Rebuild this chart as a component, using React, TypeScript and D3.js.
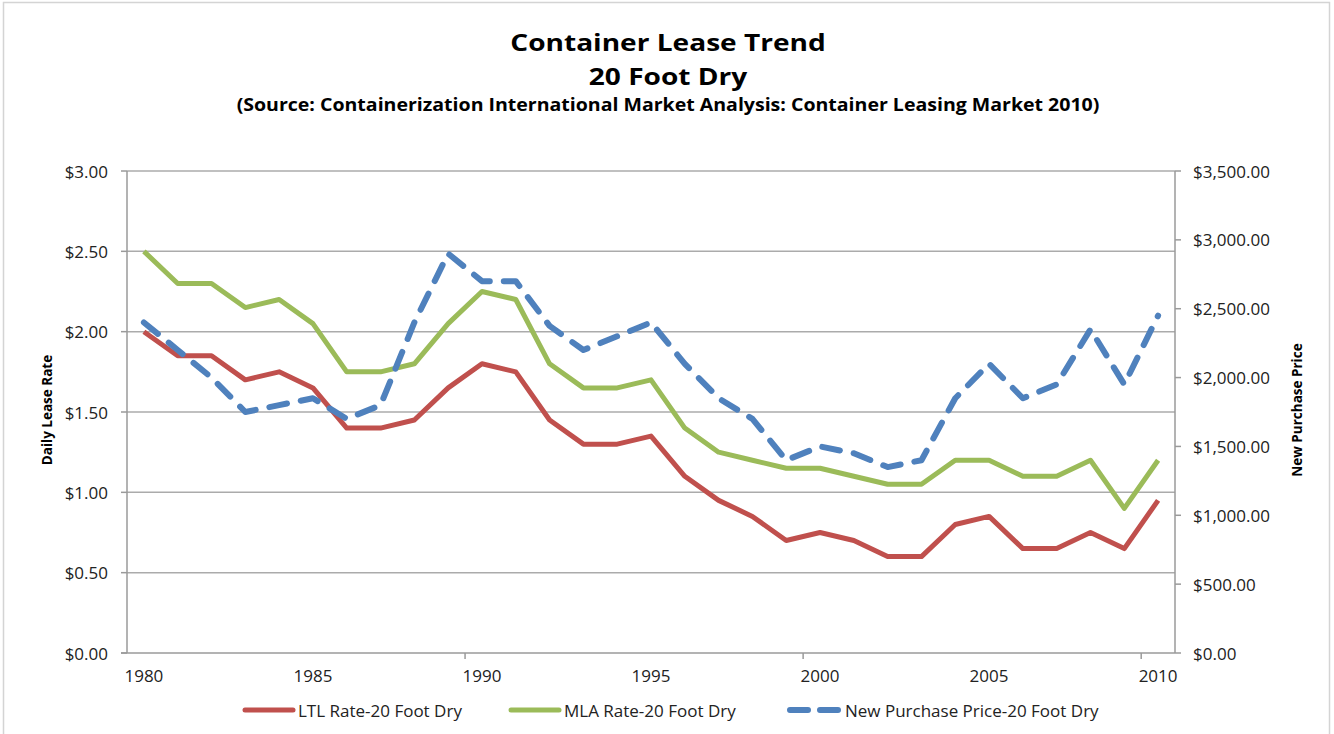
import { useEffect, useRef } from 'react';
import * as d3 from 'd3';

// categories (years)
const years = [
  1980, 1981, 1982, 1983, 1984, 1985, 1986, 1987, 1988, 1989,
  1990, 1991, 1992, 1993, 1994, 1995, 1996, 1997, 1998, 1999,
  2000, 2001, 2002, 2003, 2004, 2005, 2006, 2007, 2008, 2009, 2010,
];

// daily lease rate, left axis ($)
const ltlRate = [
  2.0, 1.85, 1.85, 1.7, 1.75, 1.65, 1.4, 1.4, 1.45, 1.65,
  1.8, 1.75, 1.45, 1.3, 1.3, 1.35, 1.1, 0.95, 0.85, 0.7,
  0.75, 0.7, 0.6, 0.6, 0.8, 0.85, 0.65, 0.65, 0.75, 0.65, 0.95,
];
const mlaRate = [
  2.5, 2.3, 2.3, 2.15, 2.2, 2.05, 1.75, 1.75, 1.8, 2.05,
  2.25, 2.2, 1.8, 1.65, 1.65, 1.7, 1.4, 1.25, 1.2, 1.15,
  1.15, 1.1, 1.05, 1.05, 1.2, 1.2, 1.1, 1.1, 1.2, 0.9, 1.2,
];

// new purchase price, right axis ($)
const purchasePrice = [
  2400, 2200, 2000, 1750, 1800, 1850, 1700, 1800, 2400, 2900,
  2700, 2700, 2375, 2200, 2300, 2400, 2100, 1850, 1700, 1400,
  1500, 1450, 1350, 1400, 1850, 2100, 1850, 1950, 2350, 1950, 2450,
];

const leftTicks = [0, 0.5, 1, 1.5, 2, 2.5, 3];
const rightTicks = [0, 500, 1000, 1500, 2000, 2500, 3000, 3500];
const yearLabels = [1980, 1985, 1990, 1995, 2000, 2005, 2010];

const legendItems = [
  { label: 'LTL Rate-20 Foot Dry', color: '#c0504d', dashed: false },
  { label: 'MLA Rate-20 Foot Dry', color: '#9bbb59', dashed: false },
  { label: 'New Purchase Price-20 Foot Dry', color: '#4f81bd', dashed: true },
];

const W = 1334;
const H = 734;
const FONT = '"Open Sans", sans-serif';

export default function App() {
  const svgRef = useRef<SVGSVGElement>(null);

  useEffect(() => {
    document.body.style.margin = '0';
    if (!svgRef.current) return;
    const svg = d3.select(svgRef.current);
    svg.selectAll('*').remove();

    const left = 127;
    const right = 1175;
    const top = 171;
    const bottom = 653;

    const x = d3.scaleBand<number>().domain(years).range([left, right]).padding(0);
    const cx = (yr: number) => (x(yr) as number) + x.bandwidth() / 2;
    const yL = d3.scaleLinear().domain([0, 3]).range([bottom, top]);
    const yR = d3.scaleLinear().domain([0, 3500]).range([bottom, top]);

    svg.append('rect')
      .attr('x', 3.5).attr('y', 2.5)
      .attr('width', 1326).attr('height', 760)
      .attr('fill', '#fff')
      .attr('stroke', '#d4d4d4')
      .attr('stroke-width', 1.5);

    // titles (the original font is wide and short, so stretch horizontally)
    const titles = [
      { text: 'Container Lease Trend', y: 51, size: 24, sx: 1.17 },
      { text: '20 Foot Dry', y: 85, size: 24, sx: 1.17 },
      { text: '(Source: Containerization International Market Analysis: Container Leasing Market 2010)', y: 111, size: 17, sx: 1.15 },
    ];
    titles.forEach((t) => {
      svg.append('text')
        .attr('transform', `translate(668, ${t.y}) scale(${t.sx}, 1)`)
        .attr('text-anchor', 'middle')
        .attr('font-family', FONT)
        .attr('font-weight', 700)
        .attr('font-size', t.size)
        .attr('fill', '#000')
        .text(t.text);
    });

    // gridlines
    svg.append('g')
      .selectAll('line')
      .data(leftTicks.filter((d) => d > 0))
      .enter()
      .append('line')
      .attr('x1', left).attr('x2', right)
      .attr('y1', (d) => yL(d)).attr('y2', (d) => yL(d))
      .attr('stroke', '#ababab')
      .attr('stroke-width', 1.5);

    // left axis
    const axisColor = '#9a9a9a';
    svg.append('line')
      .attr('x1', left).attr('x2', left)
      .attr('y1', top).attr('y2', bottom)
      .attr('stroke', axisColor).attr('stroke-width', 1.5);
    leftTicks.forEach((v) => {
      svg.append('line')
        .attr('x1', left - 6).attr('x2', left)
        .attr('y1', yL(v)).attr('y2', yL(v))
        .attr('stroke', axisColor).attr('stroke-width', 1.5);
      svg.append('text')
        .attr('x', 108).attr('y', yL(v))
        .attr('text-anchor', 'end')
        .attr('dominant-baseline', 'central')
        .attr('font-family', FONT)
        .attr('font-size', 17)
        .attr('fill', '#222')
        .text(d3.format('$.2f')(v));
    });

    // right axis
    svg.append('line')
      .attr('x1', right).attr('x2', right)
      .attr('y1', top).attr('y2', bottom)
      .attr('stroke', axisColor).attr('stroke-width', 1.5);
    rightTicks.forEach((v) => {
      svg.append('line')
        .attr('x1', right).attr('x2', right + 6)
        .attr('y1', yR(v)).attr('y2', yR(v))
        .attr('stroke', axisColor).attr('stroke-width', 1.5);
      svg.append('text')
        .attr('x', 1193).attr('y', yR(v))
        .attr('text-anchor', 'start')
        .attr('dominant-baseline', 'central')
        .attr('font-family', FONT)
        .attr('font-size', 17)
        .attr('fill', '#222')
        .text(d3.format('$,.2f')(v));
    });

    // bottom axis
    svg.append('line')
      .attr('x1', left - 6).attr('x2', right)
      .attr('y1', bottom).attr('y2', bottom)
      .attr('stroke', axisColor).attr('stroke-width', 1.5);
    years.filter((_, i) => i % 10 === 0 && i > 0).forEach((yr) => {
      const xt = x(yr) as number;
      svg.append('line')
        .attr('x1', xt).attr('x2', xt)
        .attr('y1', bottom).attr('y2', bottom + 6)
        .attr('stroke', axisColor).attr('stroke-width', 1.5);
    });
    yearLabels.forEach((yr) => {
      svg.append('text')
        .attr('x', cx(yr)).attr('y', 682)
        .attr('text-anchor', 'middle')
        .attr('font-family', FONT)
        .attr('font-size', 17)
        .attr('fill', '#222')
        .text(yr);
    });

    // axis titles
    svg.append('text')
      .attr('transform', `translate(52, 410) rotate(-90)`)
      .attr('text-anchor', 'middle')
      .attr('font-family', FONT)
      .attr('font-weight', 700)
      .attr('font-size', 13.5)
      .attr('fill', '#000')
      .text('Daily Lease Rate');
    svg.append('text')
      .attr('transform', `translate(1302, 410) rotate(-90)`)
      .attr('text-anchor', 'middle')
      .attr('font-family', FONT)
      .attr('font-weight', 700)
      .attr('font-size', 13.5)
      .attr('fill', '#000')
      .text('New Purchase Price');

    // series
    const lineL = d3.line<number>().x((_, i) => cx(years[i])).y((d) => yL(d));
    const lineR = d3.line<number>().x((_, i) => cx(years[i])).y((d) => yR(d));

    svg.append('path')
      .attr('d', lineL(ltlRate) as string)
      .attr('fill', 'none')
      .attr('stroke', legendItems[0].color)
      .attr('stroke-width', 5)
      .attr('stroke-linejoin', 'round');
    svg.append('path')
      .attr('d', lineL(mlaRate) as string)
      .attr('fill', 'none')
      .attr('stroke', legendItems[1].color)
      .attr('stroke-width', 5)
      .attr('stroke-linejoin', 'round');
    svg.append('path')
      .attr('d', lineR(purchasePrice) as string)
      .attr('fill', 'none')
      .attr('stroke', legendItems[2].color)
      .attr('stroke-width', 6)
      .attr('stroke-linejoin', 'round')
      .attr('stroke-linecap', 'round')
      .attr('stroke-dasharray', '18 14');

    // legend
    const legendX = [243, 509, 788];
    legendItems.forEach((item, i) => {
      const g = svg.append('g').attr('transform', `translate(${legendX[i]}, 710)`);
      if (item.dashed) {
        g.append('path')
          .attr('d', 'M2,0 L52,0')
          .attr('stroke', item.color)
          .attr('stroke-width', 6)
          .attr('stroke-linecap', 'round')
          .attr('stroke-dasharray', '18 12');
      } else {
        g.append('line')
          .attr('x1', 2).attr('x2', 50)
          .attr('y1', 0).attr('y2', 0)
          .attr('stroke', item.color)
          .attr('stroke-width', 5)
          .attr('stroke-linecap', 'round');
      }
      g.append('text')
        .attr('x', item.dashed ? 57 : 55).attr('y', 0)
        .attr('dominant-baseline', 'central')
        .attr('font-family', FONT)
        .attr('font-size', 17)
        .attr('fill', '#222')
        .text(item.label);
    });
  }, []);

  return <svg ref={svgRef} width={W} height={H} style={{ display: 'block' }} />;
}
